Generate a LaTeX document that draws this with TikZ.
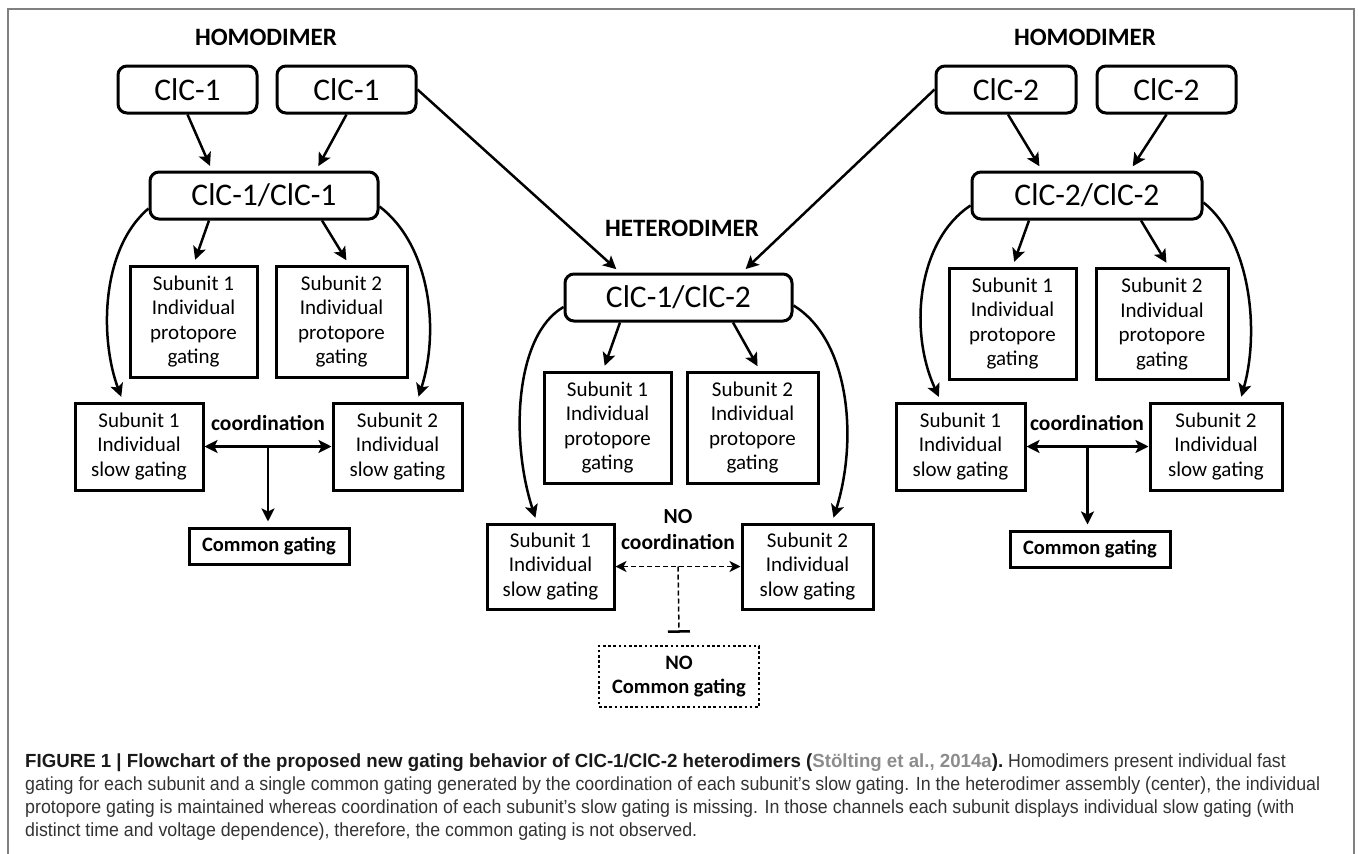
\documentclass[tikz,border=0pt]{standalone}
\usepackage{fontspec}
\usepackage{graphicx}
\setmainfont{Carlito}
\newfontfamily\capfont{Liberation Sans}
\usetikzlibrary{arrows.meta,calc}
\newsavebox\capboxii
\newsavebox\capboldbox
\definecolor{framegray}{HTML}{808080}
\definecolor{captext}{HTML}{333333}
\definecolor{capbold}{HTML}{1A1A1A}
\definecolor{citegray}{HTML}{8C8C8C}
\tikzset{
  rbox/.style={draw, line width=3pt, rounded corners=9pt, inner sep=0pt, font=\fontsize{31.5}{34}\selectfont},
  sbox/.style={draw, line width=3pt, inner sep=0pt, align=center, font=\fontsize{21}{24.5}\selectfont},
  cgbox/.style={draw, line width=3pt, inner sep=0pt, align=center, font=\bfseries\fontsize{20.5}{24}\selectfont},
  dotbox/.style={draw, line width=2.5pt, dash pattern=on 2.6pt off 2.6pt, inner sep=0pt, align=center, font=\bfseries\fontsize{20.5}{24}\selectfont},
  headlbl/.style={font=\bfseries\fontsize{25}{28}\selectfont},
  coordlbl/.style={font=\bfseries\fontsize{21.5}{26}\selectfont, align=center},
  arr/.style={line width=2.5pt, -{Stealth[length=13pt,width=13pt,inset=3pt]}, shorten >=5pt},
  darr/.style={line width=2.5pt, {Stealth[length=13pt,width=13pt,inset=3pt]}-{Stealth[length=13pt,width=13pt,inset=3pt]}},
  ddarr/.style={line width=1.5pt, dash pattern=on 5pt off 3pt, {Stealth[length=11pt,width=11pt,inset=3pt]}-{Stealth[length=11pt,width=11pt,inset=3pt]}},
  tbar/.style={line width=1.5pt, dash pattern=on 5pt off 3pt, -{Bar[width=22pt,line width=2.5pt]}},
  capline/.style={anchor=base west, inner sep=0pt, text=captext, font=\capfont\fontsize{19}{23}\selectfont}
}
\newcommand{\capboldtext}{FIGURE 1 | Flowchart of the proposed new gating behavior of ClC-1/ClC-2 heterodimers (\textcolor{citegray}{Stölting et al., 2014a}).}
\begin{document}
\global\setbox\capboxii=\hbox{\capfont\fontsize{19}{23}\selectfont gating for each subunit and a single common gating generated by the coordination of each subunit’s slow gating. In the heterodimer assembly (center), the individual}%
\global\setbox\capboldbox=\hbox{\capfont\fontsize{19}{23}\selectfont\bfseries \capboldtext}%
\pgfmathsetmacro\capsxtmp{1295/\the\wd\capboxii}%
\global\let\capsx\capsxtmp
\pgfmathsetmacro\capbxtmp{978/\the\wd\capboldbox}%
\global\let\capbx\capbxtmp
\begin{tikzpicture}[x=1pt,y=-1pt]
\useasboundingbox (0,0) rectangle (1358,854);
% frame
\draw[framegray, line width=1.5pt] (8,854) -- (8,9) -- (1354,9) -- (1354,854);

% ---------- left homodimer ----------
\node[headlbl] (hl) at (266,37) {HOMODIMER};
\node[rbox, minimum width=139pt, minimum height=47pt] (a1) at (187.5,89.5) {ClC-1};
\node[rbox, minimum width=139pt, minimum height=47pt] (a2) at (346.5,89.5) {ClC-1};
\node[rbox, minimum width=228pt, minimum height=47pt] (ab) at (264,195.5) {ClC-1/ClC-1};
\node[sbox, minimum width=127pt, minimum height=111pt] (p1) at (193.5,321.5) {Subunit 1\\Individual\\protopore\\gating};
\node[sbox, minimum width=131pt, minimum height=111pt] (p2) at (341.5,321.5) {Subunit 2\\Individual\\protopore\\gating};
\node[sbox, minimum width=128pt, minimum height=87pt] (s1) at (139,446.5) {Subunit 1\\Individual\\slow gating};
\node[sbox, minimum width=129pt, minimum height=87pt] (s2) at (397.5,446.5) {Subunit 2\\Individual\\slow gating};
\node[cgbox, minimum width=160pt, minimum height=36pt] (cg) at (269,546) {Common gating};
\node[coordlbl] (c1) at (268,423) {coordination};

% ---------- right homodimer nodes ----------
\node[headlbl] (hr) at (1085,37) {HOMODIMER};
\node[rbox, minimum width=140pt, minimum height=47pt] (b1) at (1006,89.5) {ClC-2};
\node[rbox, minimum width=139pt, minimum height=47pt] (b2) at (1166.5,89.5) {ClC-2};
\node[rbox, minimum width=230pt, minimum height=47pt] (bb) at (1087,195.5) {ClC-2/ClC-2};
\node[sbox, minimum width=127pt, minimum height=111pt] (q1) at (1012.5,323.5) {Subunit 1\\Individual\\protopore\\gating};
\node[sbox, minimum width=132pt, minimum height=111pt] (q2) at (1162,324) {Subunit 2\\Individual\\protopore\\gating};
\node[sbox, minimum width=129pt, minimum height=87pt] (r1) at (960.5,446.5) {Subunit 1\\Individual\\slow gating};
\node[sbox, minimum width=132pt, minimum height=87pt] (r2) at (1216,446.5) {Subunit 2\\Individual\\slow gating};
\node[cgbox, minimum width=160pt, minimum height=36pt] (rcg) at (1090,549) {Common gating};
\node[coordlbl] (c3) at (1087,423) {coordination};

% ---------- heterodimer nodes ----------
\node[headlbl] (hh) at (682,228) {HETERODIMER};
\node[rbox, minimum width=227pt, minimum height=47pt] (hab) at (678.5,297.5) {ClC-1/ClC-2};
\node[sbox, minimum width=127pt, minimum height=111pt] (hp1) at (607.5,427.5) {Subunit 1\\Individual\\protopore\\gating};
\node[sbox, minimum width=131pt, minimum height=111pt] (hp2) at (752.5,427.5) {Subunit 2\\Individual\\protopore\\gating};
\node[sbox, minimum width=127pt, minimum height=85pt] (hs1) at (550.5,566.5) {Subunit 1\\Individual\\slow gating};
\node[sbox, minimum width=131pt, minimum height=85pt] (hs2) at (807.5,566.5) {Subunit 2\\Individual\\slow gating};
\node[coordlbl] (c2) at (678,530) {NO\\coordination};
\node[dotbox, minimum width=160pt, minimum height=61pt] (ncg) at (679,676.5) {NO\\Common gating};

% ---------- left connectors ----------
\draw[arr] (a1.south) -- ([xshift=-52pt]ab.north);
\draw[arr] (a2.south) -- ([xshift=52pt]ab.north);
\draw[arr] ([xshift=-55pt]ab.south) -- (p1.north);
\draw[arr] ([xshift=58pt]ab.south) -- ([xshift=7.5pt]p2.north);
\draw[arr] ([yshift=-13pt]ab.west) .. controls (100,250) and (100,340) .. ([xshift=-16pt]s1.north);
\draw[arr] ([yshift=-11pt]ab.east) .. controls (430,245) and (440,330) .. ([xshift=19.5pt]s2.north);
\draw[darr] (s1.east) -- (s2.west);
\coordinate (j1) at ($(s1.east)!0.5!(s2.west)$);
\draw[arr] (j1) -- (j1 |- cg.north);

% ---------- heterodimer connectors ----------
\draw[arr] (a2.east) -- ([xshift=-58.5pt]hab.north);
\draw[arr] (b1.west) -- ([xshift=63.5pt]hab.north);
\draw[arr] ([xshift=-58.5pt]hab.south) -- ([xshift=-4.5pt]hp1.north);
\draw[arr] ([xshift=54.5pt]hab.south) -- ([xshift=7.5pt]hp2.north);
\draw[arr] ([yshift=-9.5pt]hab.west) .. controls (515,335) and (510,440) .. ([xshift=-13.5pt]hs1.north);
\draw[arr] ([yshift=-8pt]hab.east) .. controls (850,340) and (858,440) .. ([xshift=24.5pt]hs2.north);
\draw[ddarr] (hs1.east) -- (hs2.west);
\coordinate (j2) at ($(hs1.east)!0.5!(hs2.west)$);
\draw[tbar] (j2) -- ([yshift=12pt]ncg.north);

% ---------- right connectors ----------
\draw[arr] ([xshift=2pt]b1.south) -- ([xshift=-45pt]bb.north);
\draw[arr] (b2.south) -- ([xshift=43pt]bb.north);
\draw[arr] ([xshift=-58pt]bb.south) -- (q1.north);
\draw[arr] ([xshift=54pt]bb.south) -- ([xshift=7pt]q2.north);
\draw[arr] ([yshift=-10pt]bb.west) .. controls (918,240) and (908,330) .. ([xshift=-19.5pt]r1.north);
\draw[arr] ([yshift=-7pt]bb.east) .. controls (1250,240) and (1260,330) .. ([xshift=24pt]r2.north);
\draw[darr] (r1.east) -- (r2.west);
\coordinate (j3) at ($(r1.east)!0.5!(r2.west)$);
\draw[arr] (j3) -- (j3 |- rcg.north);

% ---------- caption ----------
\node[capline] (cap1) at (25,767) {\scalebox{\capbx}[1]{\textcolor{capbold}{\bfseries \capboldtext}}\hspace{5pt}\scalebox{\capsx}[1]{Homodimers present individual fast}};
\node[capline] (cap2) at (25,790) {\scalebox{\capsx}[1]{gating for each subunit and a single common gating generated by the coordination of each subunit’s slow gating. In the heterodimer assembly (center), the individual}};
\node[capline] (cap3) at (25,813) {\scalebox{\capsx}[1]{protopore gating is maintained whereas coordination of each subunit’s slow gating is missing. In those channels each subunit displays individual slow gating (with}};
\node[capline] (cap4) at (25,836) {\scalebox{\capsx}[1]{distinct time and voltage dependence), therefore, the common gating is not observed.}};
\end{tikzpicture}
\end{document}
